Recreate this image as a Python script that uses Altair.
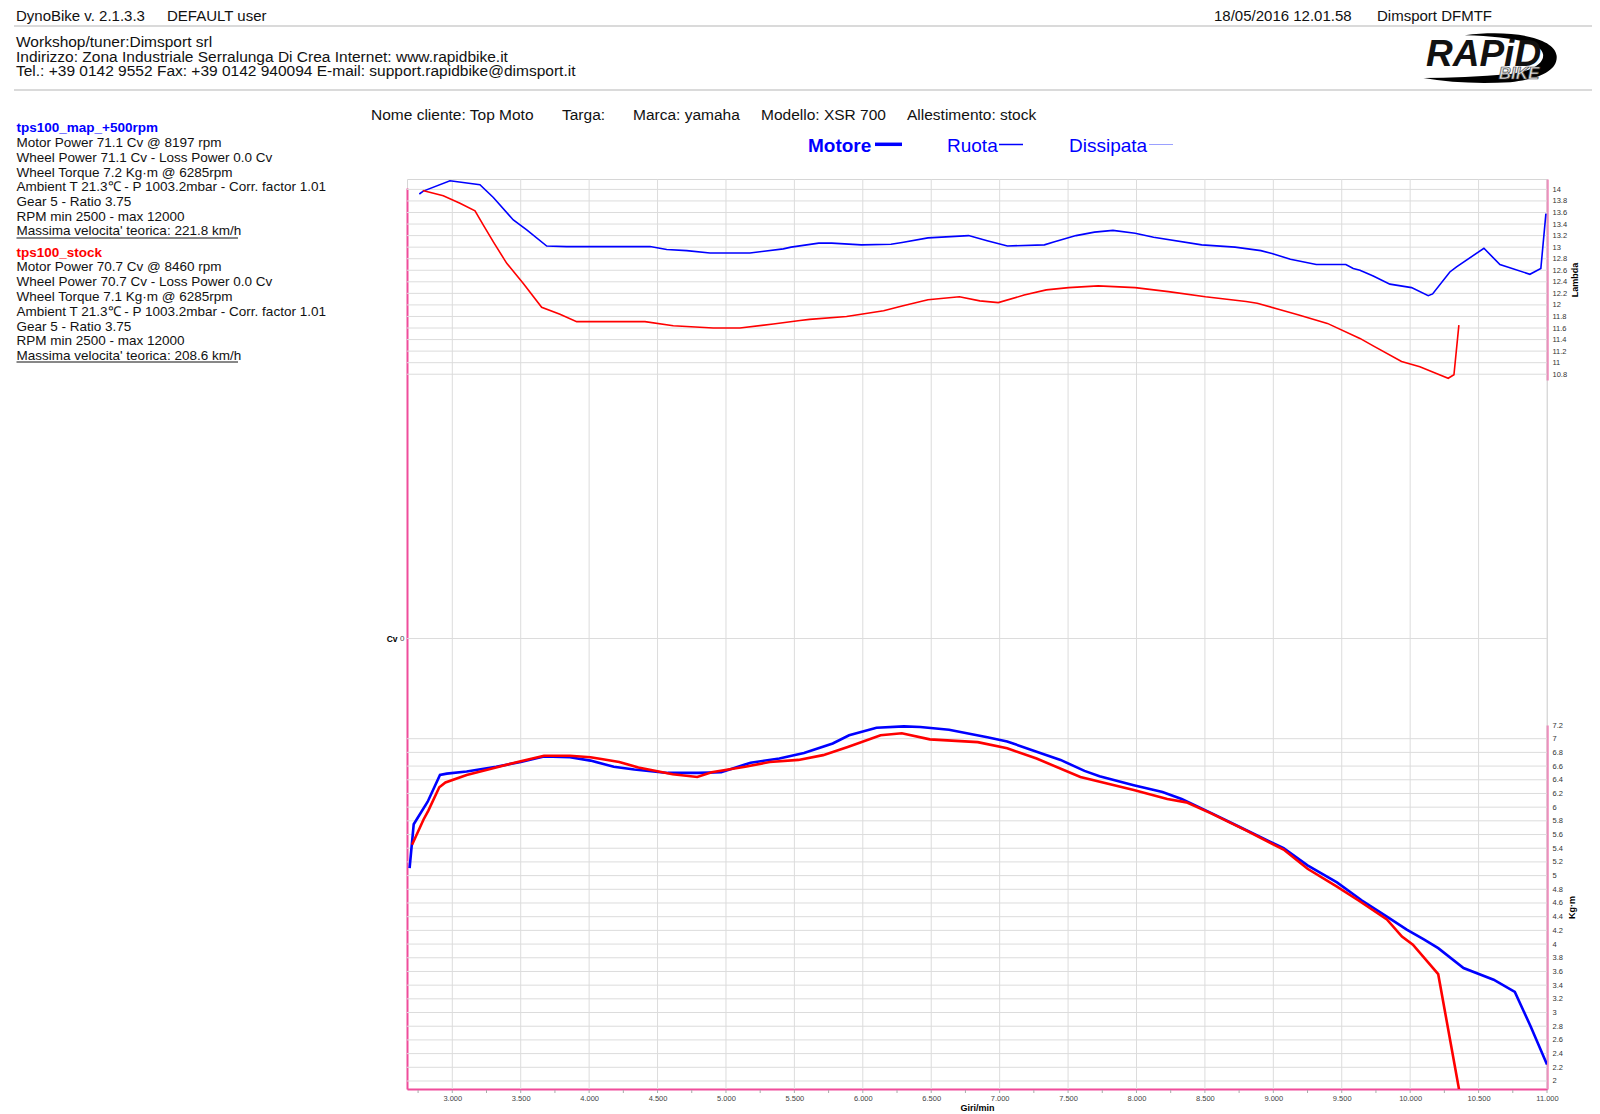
import altair as alt
import pandas as pd

# ---------------- data ----------------
RPM_L_MAP = [2759, 2788, 2983, 3202, 3300, 3446, 3544, 3690, 3836, 4445, 4567, 4713, 4883, 5175, 5419,
             5476, 5678, 5773, 5990, 6206, 6287, 6476, 6773, 6909, 7057, 7327, 7395, 7558, 7693, 7828,
             7990, 8125, 8477, 8720, 8909, 8990, 9125, 9314, 9530, 9584, 9633, 9730, 9852, 10010, 10132,
             10164, 10290, 10339, 10539, 10656, 10875, 10955, 10992]
LAMBDA_MAP = [13.92, 13.97, 14.15, 14.08, 13.86, 13.47, 13.30, 13.02, 13.01, 13.01, 12.96, 12.94, 12.90, 12.90, 12.97,
              13.00, 13.07, 13.07, 13.04, 13.05, 13.08, 13.16, 13.20, 13.11, 13.02, 13.04, 13.09, 13.20, 13.26, 13.29,
              13.24, 13.17, 13.04, 13.00, 12.94, 12.89, 12.79, 12.70, 12.70, 12.63, 12.60, 12.50, 12.36, 12.30, 12.16,
              12.19, 12.57, 12.66, 12.98, 12.70, 12.53, 12.63, 13.58]

RPM_L_STOCK = [2784, 2934, 3056, 3166, 3227, 3300, 3398, 3519, 3653, 3787, 3909, 4408, 4615, 4907, 5102,
               5346, 5541, 5611, 5881, 6152, 6287, 6476, 6706, 6855, 6990, 7179, 7341, 7504, 7720, 7990,
               8233, 8504, 8801, 8882, 9044, 9180, 9395, 9633, 9730, 9937, 10071, 10205, 10278, 10320, 10356]
LAMBDA_STOCK = [13.98, 13.89, 13.76, 13.63, 13.38, 13.09, 12.72, 12.37, 11.96, 11.84, 11.71, 11.71, 11.64, 11.60, 11.60,
                11.67, 11.73, 11.75, 11.80, 11.90, 11.98, 12.09, 12.14, 12.07, 12.04, 12.17, 12.26, 12.30, 12.33, 12.30,
                12.23, 12.14, 12.06, 12.03, 11.92, 11.83, 11.68, 11.42, 11.29, 11.02, 10.93, 10.80, 10.73, 10.79, 11.65]

RPM_T_MAP = [2688, 2718, 2820, 2910, 2960, 3105, 3320, 3500, 3670, 3860, 4010, 4180, 4330, 4575, 4800,
             4965, 5180, 5390, 5570, 5780, 5900, 6100, 6300, 6420, 6630, 6910, 7055, 7270, 7445, 7620,
             7730, 7980, 8190, 8330, 8540, 8755, 9075, 9250, 9465, 9645, 9830, 9975, 10100, 10205, 10390,
             10610, 10765, 10880, 11000]
TORQUE_MAP = [5.11, 5.75, 6.08, 6.47, 6.49, 6.52, 6.59, 6.66, 6.74, 6.73, 6.68, 6.59, 6.55, 6.50, 6.50,
              6.51, 6.65, 6.71, 6.79, 6.93, 7.05, 7.16, 7.18, 7.17, 7.13, 7.02, 6.96, 6.81, 6.69, 6.53,
              6.45, 6.32, 6.22, 6.12, 5.92, 5.71, 5.40, 5.15, 4.90, 4.64, 4.40, 4.21, 4.07, 3.94, 3.65,
              3.48, 3.30, 2.80, 2.24]

RPM_T_STOCK = [2706, 2790, 2825, 2905, 2950, 3105, 3320, 3500, 3670, 3860, 4010, 4100, 4220, 4360, 4610,
               4790, 4895, 5140, 5320, 5530, 5710, 5890, 6130, 6285, 6490, 6840, 7055, 7270, 7590, 7980,
               8225, 8365, 8545, 8800, 9075, 9250, 9465, 9620, 9830, 9940, 10020, 10205, 10357]
TORQUE_STOCK = [5.45, 5.82, 5.95, 6.29, 6.36, 6.47, 6.58, 6.67, 6.75, 6.75, 6.73, 6.70, 6.66, 6.58, 6.48,
                6.44, 6.51, 6.59, 6.66, 6.69, 6.76, 6.88, 7.05, 7.08, 6.99, 6.95, 6.86, 6.71, 6.44, 6.25,
                6.12, 6.07, 5.91, 5.66, 5.38, 5.10, 4.84, 4.64, 4.36, 4.11, 3.99, 3.56, 1.88]

RPM_TICKS = [3000, 3500, 4000, 4500, 5000, 5500, 6000, 6500, 7000, 7500, 8000, 8500, 9000, 9500, 10000, 10500, 11000]
RPM_MINOR = [2750, 3000, 3250, 3500, 3750, 4000, 4250, 4500, 4750, 5000, 5250, 5500, 5750, 6000, 6250, 6500,
             6750, 7000, 7250, 7500, 7750, 8000, 8250, 8500, 8750, 9000, 9250, 9500, 9750, 10000, 10250,
             10500, 10750, 11000]
LAMBDA_TICKS = [10.8, 11.0, 11.2, 11.4, 11.6, 11.8, 12.0, 12.2, 12.4, 12.6, 12.8, 13.0, 13.2, 13.4, 13.6, 13.8, 14.0]
TORQUE_TICKS = [2.0, 2.2, 2.4, 2.6, 2.8, 3.0, 3.2, 3.4, 3.6, 3.8, 4.0, 4.2, 4.4, 4.6, 4.8, 5.0, 5.2, 5.4, 5.6,
                5.8, 6.0, 6.2, 6.4, 6.6, 6.8, 7.0, 7.2]
TORQUE_GRID = [2.0, 2.2, 2.4, 2.6, 2.8, 3.0, 3.2, 3.4, 3.6, 3.8, 4.0, 4.2, 4.4, 4.6, 4.8, 5.0, 5.2, 5.4, 5.6,
               5.8, 6.0, 6.2, 6.4, 6.6, 6.8, 7.0]
CV_TICKS = [0]

HEADER_LEFT = ["DynoBike v. 2.1.3.3", "DEFAULT user"]
HEADER_RIGHT = ["18/05/2016 12.01.58", "Dimsport DFMTF"]
WORKSHOP = ["Workshop/tuner:Dimsport srl",
            "Indirizzo: Zona Industriale Serralunga Di Crea Internet: www.rapidbike.it",
            "Tel.: +39 0142 9552 Fax: +39 0142 940094 E-mail: support.rapidbike@dimsport.it"]
CLIENT = ["Nome cliente: Top Moto", "Targa:", "Marca: yamaha", "Modello: XSR 700", "Allestimento: stock"]
LEGEND = ["Motore", "Ruota", "Dissipata"]
MAP_NAME = "tps100_map_+500rpm"
MAP_LINES = ["Motor Power 71.1 Cv  @ 8197 rpm",
             "Wheel Power 71.1 Cv  - Loss Power 0.0 Cv",
             "Wheel Torque 7.2 Kg\u00b7m  @ 6285rpm",
             "Ambient T 21.3\u2103 - P 1003.2mbar - Corr. factor 1.01",
             "Gear 5 - Ratio 3.75",
             "RPM min 2500 - max 12000",
             "Massima velocita' teorica: 221.8 km/h"]
STOCK_NAME = "tps100_stock"
STOCK_LINES = ["Motor Power 70.7 Cv  @ 8460 rpm",
               "Wheel Power 70.7 Cv  - Loss Power 0.0 Cv",
               "Wheel Torque 7.1 Kg\u00b7m  @ 6285rpm",
               "Ambient T 21.3\u2103 - P 1003.2mbar - Corr. factor 1.01",
               "Gear 5 - Ratio 3.75",
               "RPM min 2500 - max 12000",
               "Massima velocita' teorica: 208.6 km/h"]

# ---------------- style / layout ----------------
FONT = "Liberation Sans"
PINK = "#ef4d9b"
GRID = "#dcdcdc"
BLUE = "#0000ff"
RED = "#ff0000"
OX, OY = 407, 179          # page position of the plot origin
W, H = 1140, 910

ONE = pd.DataFrame({"k": [0]})


def text(s, X, Y, size, color="#111111", weight="normal", style="normal", align="left", **kw):
    return alt.Chart(ONE).mark_text(
        text=s, align=align, baseline="middle", font=FONT, fontSize=size,
        color=color, fontWeight=weight, fontStyle=style, **kw
    ).encode(x=alt.value(X - OX), y=alt.value(Y - OY))


def hline(X1, X2, Y, color, width):
    return alt.Chart(ONE).mark_rule(color=color, strokeWidth=width).encode(
        x=alt.value(X1 - OX), x2=alt.value(X2 - OX), y=alt.value(Y - OY))


xscale = alt.Scale(domain=[2669, 11000], nice=False, zero=False)
xaxis = alt.Axis(values=RPM_TICKS, labelExpr="replace(format(datum.value, ','), ',', '.')",
                 title="Giri/min", titleFontWeight="bold", titleFontSize=9, titleColor="#000",
                 titlePadding=2, labelFontSize=7.5, labelColor="#444", labelPadding=5,
                 ticks=False, tickSize=0, domainColor=PINK, domainWidth=2,
                 grid=False, labelFlush=False, labelOverlap=False)

lamscale = alt.Scale(domain=[10.70, 14.18], range=[201, 0], nice=False, zero=False)
lamaxis = alt.Axis(orient="right", values=LAMBDA_TICKS, format="~g", labelFontSize=7.5, labelColor="#333",
                   labelPadding=5, ticks=False, tickSize=0, domainColor=PINK, domainWidth=2,
                   grid=False, title="Lambda", titleFontSize=9,
                   titleFontWeight="bold", titleColor="#000", titleAngle=270,
                   titleX=27, titleY=100.5, titleAlign="center", titleBaseline="middle",
                   labelOverlap=False, labelFlush=False, labelBound=False)

tqscale = alt.Scale(domain=[1.883, 7.2], range=[910, 546], nice=False, zero=False)
tqaxis = alt.Axis(orient="right", values=TORQUE_TICKS, format="~g", labelFontSize=7.5, labelColor="#333",
                  labelPadding=5, ticks=False, tickSize=0, domainColor=PINK, domainWidth=2,
                  grid=False, title="Kg\u00b7m", titleFontSize=9, titleFontWeight="bold", titleColor="#000",
                  titleAngle=270, titleX=24, titleY=728, titleAlign="center", titleBaseline="middle",
                  labelOverlap=False, labelFlush=False, labelBound=False)

cvscale = alt.Scale(domain=[-1, 1], range=[910, 9], nice=False, zero=False)
cvaxis = alt.Axis(orient="left", values=CV_TICKS, labelFontSize=8, labelColor="#444", labelPadding=3,
                  ticks=False, tickSize=0, domainColor=PINK, domainWidth=2, grid=False,
                  title="Cv", titleAngle=0, titleFontWeight="bold", titleFontSize=8.5, titleColor="#000",
                  titleX=-10, titleY=459.5, titleAlign="right", titleBaseline="middle")

# ---------------- chart layers ----------------
vgrid = alt.Chart(pd.DataFrame({"rpm": RPM_TICKS})).mark_rule(color=GRID, strokeWidth=1).encode(
    x=alt.X("rpm:Q", scale=xscale, axis=xaxis), y=alt.value(0), y2=alt.value(H))

cv_layer = alt.Chart(pd.DataFrame({"cv": CV_TICKS})).mark_rule(color=GRID, strokeWidth=1).encode(
    y=alt.Y("cv:Q", scale=cvscale, axis=cvaxis), x=alt.value(0), x2=alt.value(W))

lam_map = pd.DataFrame({"rpm": RPM_L_MAP, "lam": LAMBDA_MAP})
lam_stock = pd.DataFrame({"rpm": RPM_L_STOCK, "lam": LAMBDA_STOCK})
lam_layer = alt.layer(
    alt.Chart(pd.DataFrame({"lam": LAMBDA_TICKS})).mark_rule(color=GRID, strokeWidth=1).encode(
        y=alt.Y("lam:Q", scale=lamscale, axis=lamaxis), x=alt.value(0), x2=alt.value(W)),
    alt.Chart(lam_map).mark_line(color=BLUE, strokeWidth=1.6, clip=True).encode(
        x=alt.X("rpm:Q", scale=xscale, axis=xaxis), y=alt.Y("lam:Q", scale=lamscale, axis=lamaxis)),
    alt.Chart(lam_stock).mark_line(color=RED, strokeWidth=1.6, clip=True).encode(
        x=alt.X("rpm:Q", scale=xscale, axis=xaxis), y=alt.Y("lam:Q", scale=lamscale, axis=lamaxis)),
)

tq_map = pd.DataFrame({"rpm": RPM_T_MAP, "tq": TORQUE_MAP})
tq_stock = pd.DataFrame({"rpm": RPM_T_STOCK, "tq": TORQUE_STOCK})
tq_layer = alt.layer(
    alt.Chart(pd.DataFrame({"tq": TORQUE_GRID})).mark_rule(color=GRID, strokeWidth=1).encode(
        y=alt.Y("tq:Q", scale=tqscale, axis=tqaxis), x=alt.value(0), x2=alt.value(W)),
    alt.Chart(tq_map).mark_line(color=BLUE, strokeWidth=2.6, clip=True).encode(
        x=alt.X("rpm:Q", scale=xscale, axis=xaxis), y=alt.Y("tq:Q", scale=tqscale, axis=tqaxis)),
    alt.Chart(tq_stock).mark_line(color=RED, strokeWidth=2.6, clip=True).encode(
        x=alt.X("rpm:Q", scale=xscale, axis=xaxis), y=alt.Y("tq:Q", scale=tqscale, axis=tqaxis)),
)

minor = alt.Chart(pd.DataFrame({"rpm": RPM_MINOR})).mark_rule(color="#aaaaaa", strokeWidth=1).encode(
    x=alt.X("rpm:Q", scale=xscale, axis=xaxis), y=alt.value(H + 1), y2=alt.value(H + 4))

deco = []
# header
deco.append(text(HEADER_LEFT[0], 16, 15.5, 15))
deco.append(text(HEADER_LEFT[1], 167, 15.5, 15))
deco.append(text(HEADER_RIGHT[0], 1214, 15.5, 15))
deco.append(text(HEADER_RIGHT[1], 1377, 15.5, 15))
deco.append(hline(14, 1600, 26, "#b5b5b5", 1))
for i, s in enumerate(WORKSHOP):
    deco.append(text(s, 16, 42 + i * 14.6, 15.5))
deco.append(hline(14, 1600, 90, "#b5b5b5", 1))

# logo
SWOOSH = ("M -0.37 -0.32 C 0.3 -0.41 0.95 -0.29 0.98 -0.02 C 1.0 0.19 0.75 0.32 0.3 0.37 "
          "Q -0.4 0.41 -0.98 0.31 Q -0.4 0.31 0.3 0.25 C 0.65 0.2 0.8 0.08 0.78 -0.04 "
          "C 0.75 -0.22 0.3 -0.3 -0.37 -0.32 Z")
deco.append(alt.Chart(ONE).mark_point(shape=SWOOSH, size=18496, filled=True, color="#000000",
                                      opacity=1, strokeWidth=0).encode(
    x=alt.value(1490 - OX), y=alt.value(57 - OY)))
deco.append(text("RAPiD", 1426, 55, 37, color="#111111", weight="bold", style="italic"))
deco.append(text("BIKE", 1519, 74, 17, color="#dedede", weight="bold", style="italic", align="center",
                 stroke="#444444", strokeWidth=0.7))

# client line
for s, X in zip(CLIENT, [371, 562, 633, 761, 907]):
    deco.append(text(s, X, 114.5, 15.5))

# legend
deco.append(text(LEGEND[0], 808, 146, 19, color=BLUE, weight="bold"))
deco.append(hline(875, 902, 144.3, BLUE, 3.5))
deco.append(text(LEGEND[1], 947, 146, 19, color=BLUE))
deco.append(hline(999, 1023, 144.5, BLUE, 1.5))
deco.append(text(LEGEND[2], 1069, 146, 19, color=BLUE))
deco.append(hline(1149, 1173, 144.5, "#9aa0ff", 1))

# left info block
deco.append(text(MAP_NAME, 16.5, 128, 13.5, color=BLUE, weight="bold"))
for i, s in enumerate(MAP_LINES):
    deco.append(text(s, 16.5, 143.2 + i * 14.7, 13.5))
deco.append(hline(16.5, 238, 238, "#111111", 1))
deco.append(text(STOCK_NAME, 16.5, 252.5, 13.5, color=RED, weight="bold"))
for i, s in enumerate(STOCK_LINES):
    deco.append(text(s, 16.5, 267.3 + i * 14.8, 13.5))
deco.append(hline(16.5, 238, 362, "#111111", 1))

chart = alt.layer(vgrid, cv_layer, lam_layer, tq_layer, minor, *deco).resolve_scale(
    y="independent"
).properties(
    width=W, height=H,
    padding={"left": OX - 8, "top": OY - 8, "right": 45, "bottom": 25},
    autosize=alt.AutoSizeParams(type="none"),
    background="white",
).configure_view(stroke="#d6d6d6", strokeWidth=1).configure_axis(
    labelFont=FONT, titleFont=FONT
)

chart.save("out.html", embed_options={"renderer": "svg", "actions": False})
